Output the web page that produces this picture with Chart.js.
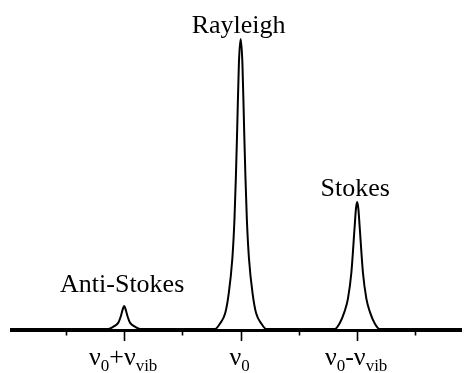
<!DOCTYPE html>
<html>
<head>
<meta charset="utf-8">
<script src="https://cdn.jsdelivr.net/npm/chart.js@4"></script>
<style>
  body { margin: 0; background: #ffffff; }
  #wrap { width: 466px; height: 373px; }
</style>
</head>
<body>
<div id="wrap"><canvas id="raman" width="466" height="373"></canvas></div>
<script>
// Shift axis in units of the vibrational frequency (0 = laser line)
const shiftX = [
  -1.98,
  -1.137, -1.093, -1.05, -1.028, -1.013, -1, -0.987, -0.972, -0.95, -0.907, -0.863,
  -0.219, -0.179, -0.133, -0.105, -0.071, -0.053, -0.041, -0.030, -0.015, 0,
  0.015, 0.030, 0.041, 0.053, 0.071, 0.105, 0.133, 0.179, 0.219,
  0.807, 0.85, 0.89, 0.921, 0.95, 0.978, 0.99, 1, 1.01, 1.022, 1.05, 1.079, 1.11, 1.15, 1.193,
  1.9
];
// Scattered intensity (Rayleigh peak = 100)
const intensity = [
  0,
  0, 0.8, 2.2, 4.5, 6.7, 7.9, 6.7, 4.5, 2.2, 0.8, 0,
  0, 1.8, 5.4, 11.5, 24.5, 38.0, 52.4, 68.6, 91.7, 100,
  91.7, 68.6, 52.4, 38.0, 24.5, 11.5, 5.4, 1.8, 0,
  0, 2.0, 5.8, 10.5, 19.3, 35.0, 41.6, 43.8, 41.6, 35.0, 19.3, 10.5, 5.8, 2.0, 0,
  0
];

// Peak names, where they sit and how tall they are
const peakNames = ['Anti-Stokes', 'Rayleigh', 'Stokes'];
const peakShift = [-1, 0, 1];
const peakHeight = [7.9, 100, 43.8];

// Axis ticks and their labels ("_{...}" marks a subscript)
const majorTicks = [-1, 0, 1];
const minorTicks = [-1.5, -0.5, 0.5, 1.5];
const tickLabels = ['ν_{0}+ν_{vib}', 'ν_{0}', 'ν_{0}-ν_{vib}'];

const serif = '"Liberation Serif", "Times New Roman", serif';

function splitLabel(str) {
  const parts = [];
  const re = /_\{([^}]*)\}|([^_]+)/g;
  let m;
  while ((m = re.exec(str)) !== null) {
    if (m[1] !== undefined) parts.push({ t: m[1], sub: true });
    else parts.push({ t: m[2], sub: false });
  }
  return parts;
}

function drawRich(ctx, str, cx, baseY) {
  const parts = splitLabel(str);
  const mainFont = '26px ' + serif;
  const subFont = '17px ' + serif;
  let total = 0;
  parts.forEach(p => {
    ctx.font = p.sub ? subFont : mainFont;
    p.w = ctx.measureText(p.t).width;
    total += p.w;
  });
  let x = cx - total / 2;
  ctx.textAlign = 'left';
  ctx.textBaseline = 'alphabetic';
  parts.forEach(p => {
    ctx.font = p.sub ? subFont : mainFont;
    ctx.fillText(p.t, x, p.sub ? baseY + 6 : baseY);
    x += p.w;
  });
}

// Baseline axis with ticks, tick labels and peak names
const axisPlugin = {
  id: 'ramanAxis',
  afterDatasetsDraw(chart) {
    const ctx = chart.ctx;
    const xs = chart.scales.x;
    const ys = chart.scales.y;
    const area = chart.chartArea;
    const y0 = ys.getPixelForValue(0);
    ctx.save();
    ctx.strokeStyle = '#000';
    ctx.fillStyle = '#000';

    ctx.lineWidth = 3;
    ctx.beginPath();
    ctx.moveTo(area.left, y0 + 1.5);
    ctx.lineTo(area.right, y0 + 1.5);
    ctx.stroke();

    ctx.lineWidth = 1.6;
    majorTicks.forEach(v => {
      const px = Math.round(xs.getPixelForValue(v)) + 0.5;
      ctx.beginPath();
      ctx.moveTo(px, y0 + 3);
      ctx.lineTo(px, y0 + 12);
      ctx.stroke();
    });
    minorTicks.forEach(v => {
      const px = Math.round(xs.getPixelForValue(v)) + 0.5;
      ctx.beginPath();
      ctx.moveTo(px, y0 + 3);
      ctx.lineTo(px, y0 + 6.5);
      ctx.stroke();
    });

    majorTicks.forEach((v, i) => {
      drawRich(ctx, tickLabels[i], xs.getPixelForValue(v) - 1, y0 + 36);
    });

    const gap = [14, 6, 6];
    ctx.font = '26px ' + serif;
    ctx.textAlign = 'center';
    ctx.textBaseline = 'alphabetic';
    peakNames.forEach((name, i) => {
      const px = xs.getPixelForValue(peakShift[i]) - 2;
      const py = ys.getPixelForValue(peakHeight[i]) - gap[i];
      ctx.fillText(name, px, py);
    });
    ctx.restore();
  }
};

new Chart(document.getElementById('raman').getContext('2d'), {
  type: 'line',
  data: {
    datasets: [{
      data: shiftX.map((x, i) => ({ x: x, y: intensity[i] })),
      borderColor: '#000000',
      borderWidth: 2,
      pointRadius: 0,
      fill: false,
      cubicInterpolationMode: 'monotone',
      clip: false
    }]
  },
  options: {
    responsive: false,
    animation: false,
    layout: { padding: { left: 10, right: 4, top: 10, bottom: 44 } },
    scales: {
      x: { type: 'linear', min: -1.98, max: 1.9, display: false },
      y: { min: 0, max: 110, display: false }
    },
    plugins: {
      legend: { display: false },
      tooltip: { enabled: false }
    }
  },
  plugins: [axisPlugin]
});
</script>
</body>
</html>
